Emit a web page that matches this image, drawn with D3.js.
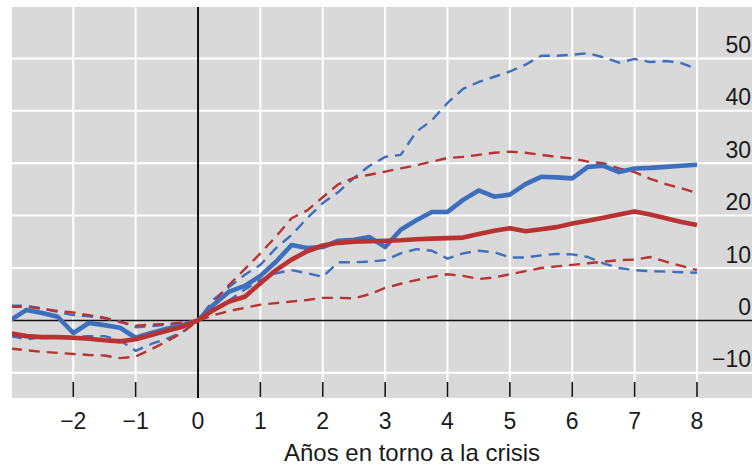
<!DOCTYPE html>
<html>
<head>
<meta charset="utf-8">
<script src="https://cdn.jsdelivr.net/npm/d3@7"></script>
<style>
  html, body { margin: 0; padding: 0; background: #ffffff; }
  svg { display: block; }
  text { font-family: "Liberation Sans", Arial, Helvetica, sans-serif; fill: #1a1a1a; }
</style>
</head>
<body>
<svg id="chart" width="752" height="465"></svg>
<script>
// ---- Data (quarterly, years around the crisis) ----
const quarters = [-3, -2.75, -2.5, -2.25, -2, -1.75, -1.5, -1.25, -1, -0.75, -0.5, -0.25,
  0, 0.25, 0.5, 0.75, 1, 1.25, 1.5, 1.75, 2, 2.25, 2.5, 2.75, 3, 3.25, 3.5, 3.75,
  4, 4.25, 4.5, 4.75, 5, 5.25, 5.5, 5.75, 6, 6.25, 6.5, 6.75, 7, 7.25, 7.5, 7.75, 8];

const blueMain = [0.1, 2.0, 1.4, 0.7, -2.4, -0.5, -0.9, -1.4, -3.3, -2.4, -1.6, -0.9,
  0, 3.0, 5.5, 6.6, 8.5, 11.2, 14.4, 13.8, 14.0, 15.2, 15.4, 15.9, 14.0, 17.3, 19.1, 20.7,
  20.7, 23.0, 24.8, 23.6, 24.0, 26.0, 27.4, 27.3, 27.1, 29.3, 29.5, 28.3, 29.0, 29.1, 29.3, 29.5, 29.7];

const blueUpper = [2.8, 2.8, 2.3, 1.6, 1.0, 0.8, 0.4, -0.2, -1.3, -1.1, -0.8, -0.5,
  0, 4.0, 6.4, 8.7, 10.6, 13.8, 16.3, 19.5, 22.4, 24.5, 27.2, 29.5, 31.2, 31.6, 36.0, 38.2,
  41.5, 44.2, 45.5, 46.5, 47.5, 48.8, 50.5, 50.5, 50.7, 51.0, 50.2, 49.2, 49.9, 49.3, 49.5, 49.1, 48.0];

const blueLower = [-3.0, -3.6, -3.2, -3.0, -3.2, -3.0, -3.0, -3.8, -5.8, -4.5, -3.5, -2.2,
  0, 1.8, 3.8, 5.9, 7.7, 9.0, 9.6, 9.0, 8.3, 11.1, 11.1, 11.2, 11.5, 12.8, 13.6, 13.3,
  11.8, 12.8, 13.3, 13.0, 12.0, 12.0, 12.4, 12.7, 12.6, 12.1, 10.9, 10.0, 9.6, 9.4, 9.3, 9.2, 9.1];

const redMain = [-2.5, -3.0, -3.2, -3.2, -3.3, -3.5, -3.8, -4.0, -3.6, -2.8, -2.0, -1.2,
  0, 2.0, 3.6, 4.5, 7.1, 9.6, 11.6, 13.2, 14.3, 14.8, 15.0, 15.1, 15.2, 15.3, 15.5, 15.6,
  15.7, 15.8, 16.5, 17.1, 17.6, 17.0, 17.4, 17.8, 18.5, 19.0, 19.6, 20.2, 20.8, 20.2, 19.5, 18.8, 18.2];

const redUpper = [2.6, 2.6, 2.2, 1.8, 1.5, 1.0, 0.5, -0.3, -1.0, -0.8, -0.7, -0.4,
  0, 3.5, 6.8, 9.8, 12.8, 16.0, 19.5, 21.0, 23.5, 26.0, 27.2, 27.8, 28.4, 29.0, 29.6, 30.3,
  31.0, 31.2, 31.6, 32.0, 32.2, 32.0, 31.6, 31.2, 30.9, 30.3, 30.0, 29.0, 28.3, 27.0, 26.0, 25.2, 24.3];

const redLower = [-5.4, -5.7, -6.0, -6.2, -6.4, -6.6, -6.7, -7.2, -6.9, -5.5, -4.0, -2.3,
  0, 1.0, 1.8, 2.4, 3.0, 3.3, 3.6, 3.9, 4.3, 4.3, 4.2, 5.0, 6.2, 7.0, 7.7, 8.3,
  8.8, 8.5, 7.9, 8.2, 8.8, 9.4, 10.0, 10.3, 10.6, 10.9, 11.2, 11.5, 11.6, 12.1, 11.2, 10.4, 9.6];

const xTicks = [-2, -1, 0, 1, 2, 3, 4, 5, 6, 7, 8];
const xTickLabels = ["\u22122", "\u22121", "0", "1", "2", "3", "4", "5", "6", "7", "8"];
const yTicks = [-10, 0, 10, 20, 30, 40, 50];
const yTickLabels = ["\u221210", "0", "10", "20", "30", "40", "50"];
const xGrid = [-3, -2, -1, 1, 2, 3, 4, 5, 6, 7, 8];
const yGrid = [-10, 10, 20, 30, 40, 50, 60];
const xTitle = "Años en torno a la crisis";

// ---- Layout ----
const W = 752, H = 465;
const panel = { left: 12, right: 752, top: 7, bottom: 398 };
const BLUE = "#3e6fbd", RED = "#b83232";

const svg = d3.select("#chart");
const x = d3.scaleLinear().domain([-3, 8]).range([10.9, 697]);
const y = d3.scaleLinear().domain([-15, 60]).range([399, 6]);

svg.append("defs").append("clipPath").attr("id", "clip")
  .append("rect")
  .attr("x", panel.left).attr("y", panel.top)
  .attr("width", panel.right - panel.left).attr("height", panel.bottom - panel.top);

// panel background
svg.append("rect")
  .attr("x", panel.left).attr("y", panel.top)
  .attr("width", panel.right - panel.left).attr("height", panel.bottom - panel.top)
  .attr("fill", "#d9d9d9");

const grid = svg.append("g").attr("clip-path", "url(#clip)");
grid.selectAll("line.vg").data(xGrid).join("line")
  .attr("class", "vg")
  .attr("x1", d => x(d)).attr("x2", d => x(d))
  .attr("y1", panel.top).attr("y2", panel.bottom)
  .attr("stroke", "#ffffff").attr("stroke-width", 2);
grid.selectAll("line.hg").data(yGrid).join("line")
  .attr("class", "hg")
  .attr("x1", panel.left).attr("x2", panel.right)
  .attr("y1", d => y(d)).attr("y2", d => y(d))
  .attr("stroke", "#ffffff").attr("stroke-width", 2);

// zero lines
svg.append("line")
  .attr("x1", panel.left).attr("x2", panel.right)
  .attr("y1", y(0)).attr("y2", y(0))
  .attr("stroke", "#111").attr("stroke-width", 1.5);
svg.append("line")
  .attr("x1", x(0)).attr("x2", x(0))
  .attr("y1", panel.top).attr("y2", panel.bottom)
  .attr("stroke", "#111").attr("stroke-width", 2);

// x tick marks inside panel bottom
svg.append("g").selectAll("line").data(xTicks).join("line")
  .attr("x1", d => x(d)).attr("x2", d => x(d))
  .attr("y1", panel.bottom - 16).attr("y2", panel.bottom - 1)
  .attr("stroke", "#111").attr("stroke-width", 1.6);

// series
const line = d3.line().x((d, i) => x(quarters[i])).y(d => y(d));
const lines = svg.append("g").attr("clip-path", "url(#clip)");
const series = [
  { v: blueUpper, c: BLUE, w: 2.4, dash: "11,7" },
  { v: blueLower, c: BLUE, w: 2.4, dash: "11,7" },
  { v: redUpper, c: RED, w: 2.4, dash: "11,7" },
  { v: redLower, c: RED, w: 2.4, dash: "11,7" },
  { v: blueMain, c: BLUE, w: 4.6, dash: null },
  { v: redMain, c: RED, w: 4.6, dash: null }
];
series.forEach(s => {
  lines.append("path")
    .attr("d", line(s.v))
    .attr("fill", "none")
    .attr("stroke", s.c)
    .attr("stroke-width", s.w)
    .attr("stroke-linejoin", "round")
    .attr("stroke-dasharray", s.dash);
});

// y tick labels (inside panel, right side, above gridlines)
svg.append("g").selectAll("text").data(yTicks).join("text")
  .attr("x", 751)
  .attr("y", d => y(d) - 5.5)
  .attr("text-anchor", "end")
  .attr("font-size", 23)
  .text((d, i) => yTickLabels[i]);

// x tick labels
svg.append("g").selectAll("text").data(xTicks).join("text")
  .attr("x", d => x(d))
  .attr("y", 429)
  .attr("text-anchor", "middle")
  .attr("font-size", 23)
  .text((d, i) => xTickLabels[i]);

// x title
svg.append("text")
  .attr("x", 412)
  .attr("y", 461)
  .attr("text-anchor", "middle")
  .attr("font-size", 24)
  .text(xTitle);
</script>
</body>
</html>
